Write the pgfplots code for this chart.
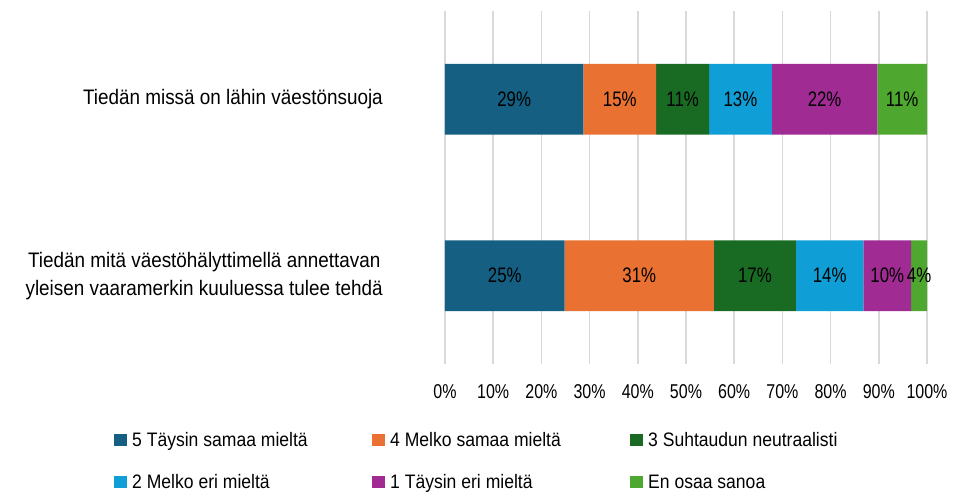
\documentclass[border=0pt]{standalone}
\usepackage{fontspec}
\setmainfont{Liberation Sans}[FakeStretch=0.9]
\newfontfamily\numfont{Liberation Sans}[FakeStretch=0.8]
\usepackage{pgfplots}
\pgfplotsset{compat=1.18}

\definecolor{c5}{HTML}{156082}
\definecolor{c4}{HTML}{E97132}
\definecolor{c3}{HTML}{196B24}
\definecolor{c2}{HTML}{0F9ED5}
\definecolor{c1}{HTML}{A02B93}
\definecolor{c0}{HTML}{4EA72E}
\definecolor{gridgray}{HTML}{D9D9D9}

\begin{document}
\begin{tikzpicture}
\path[use as bounding box] (0pt,0pt) rectangle (964pt,491pt);
\begin{axis}[
    at={(445pt,127pt)}, anchor=south west,
    scale only axis, width=482pt, height=353pt,
    xbar stacked, bar width=0.4,
    xmin=0, xmax=100, ymin=0.5, ymax=2.5,
    xtick={0,10,...,100},
    xticklabel={\pgfmathprintnumber{\tick}\%},
    /pgf/number format/assume math mode=true,
    ytick={1,2},
    yticklabels={{Tiedän mitä väestöhälyttimellä annettavan\\yleisen vaaramerkin kuuluessa tulee tehdä},
                 {Tiedän missä on lähin väestönsuoja}},
    yticklabel style={align=center, anchor=east, inner sep=0pt, xshift=-62pt,
                      font=\fontsize{21}{28}\selectfont},
    xticklabel style={font=\numfont\fontsize{20}{24}\selectfont, yshift=-17pt},
    axis line style={draw=none},
    major tick length=0pt,
    xmajorgrids,
    grid style={gridgray, line width=1.5pt},
    point meta=explicit,
    nodes near coords={\pgfmathprintnumber{\pgfplotspointmeta}\%},
    every node near coord/.append style={anchor=center, black,
        font=\numfont\fontsize{21}{25}\selectfont},
    legend image code/.code={\fill[#1] (0pt,-6.25pt) rectangle (12.5pt,6.25pt);},
    legend columns=3,
    legend style={at={(-0.6867,-0.1941)}, anchor=north west, draw=none,
        inner sep=0pt, row sep=27.5pt,
        font=\fontsize{19.5}{24}\selectfont,
        nodes={inner sep=0pt, text height=14pt, text depth=0.5pt},
        /tikz/every odd column/.append style={column sep=5.5pt}},
]
\addplot[fill=c5, draw=none] coordinates {(24.8,1) [25] (28.7,2) [29]};
\addplot[fill=c4, draw=none] coordinates {(31.0,1) [31] (15.1,2) [15]};
\addplot[fill=c3, draw=none] coordinates {(17.0,1) [17] (11.0,2) [11]};
\addplot[fill=c2, draw=none] coordinates {(14.0,1) [14] (13.0,2) [13]};
\addplot[fill=c1, draw=none] coordinates {(9.9,1) [10] (21.9,2) [22]};
\addplot[fill=c0, draw=none] coordinates {(3.3,1) [4] (10.3,2) [11]};
\legend{\makebox[240pt][l]{5 Täysin samaa mieltä},
        \makebox[240pt][l]{4 Melko samaa mieltä},
        \makebox[240pt][l]{3 Suhtaudun neutraalisti},
        \makebox[240pt][l]{2 Melko eri mieltä},
        \makebox[240pt][l]{1 Täysin eri mieltä},
        \makebox[240pt][l]{En osaa sanoa}}
\end{axis}
\end{tikzpicture}
\end{document}
